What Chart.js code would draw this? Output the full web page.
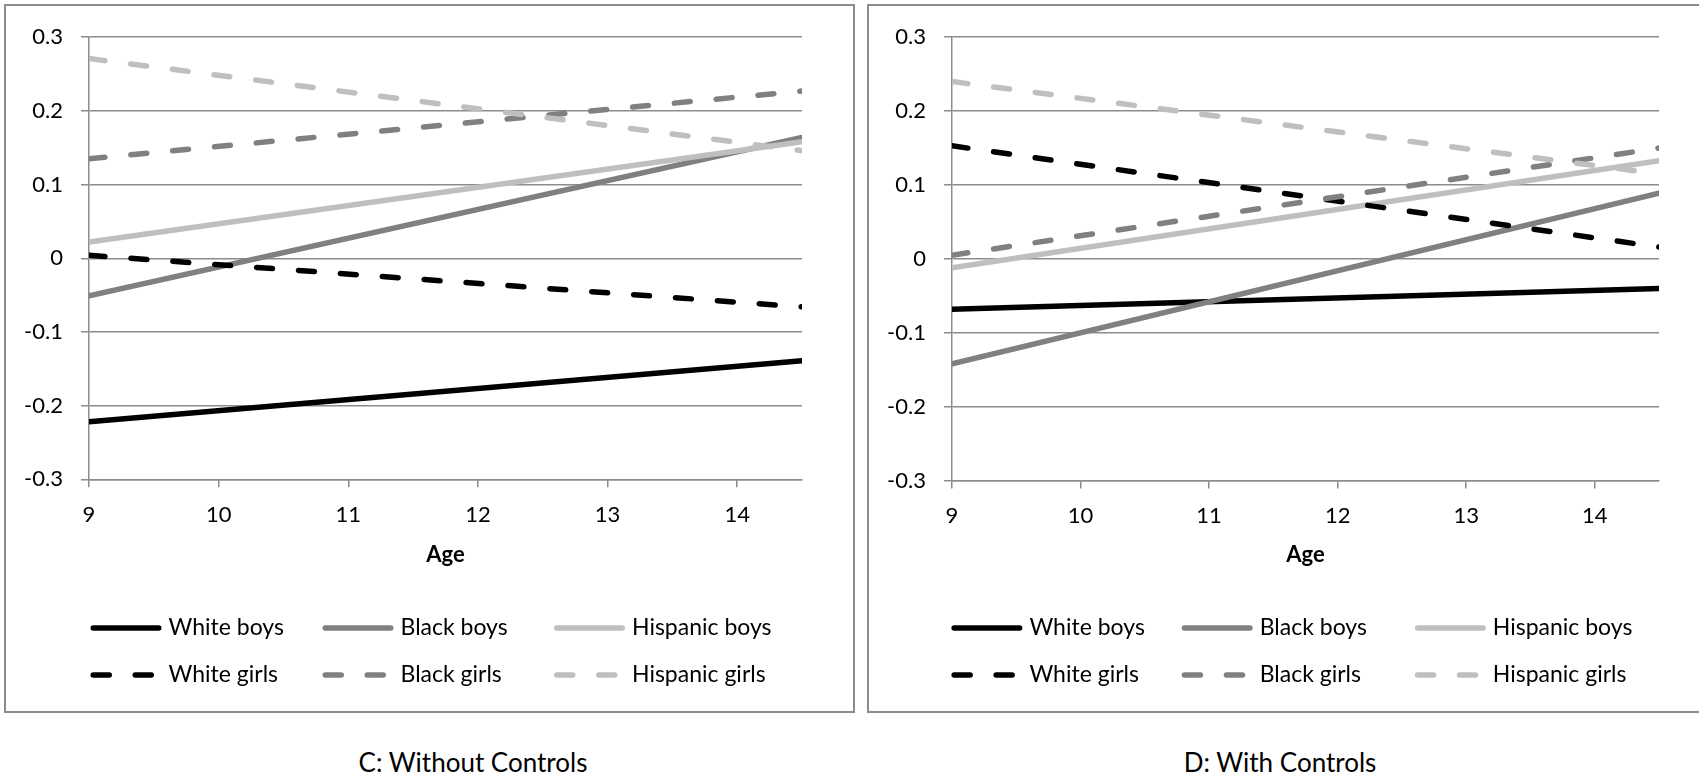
<!DOCTYPE html>
<html>
<head>
<meta charset="utf-8">
<script src="https://cdn.jsdelivr.net/npm/chart.js@4.4.0/dist/chart.umd.min.js"></script>
<style>
  html, body { margin: 0; padding: 0; background: #fff; width: 1699px; height: 780px; overflow: hidden; font-family: Lato, sans-serif; }
  .panel { position: absolute; top: 4px; width: 851px; height: 709px; border: 2px solid #8c8c8c; box-sizing: border-box; background: #fff; }
  .panel canvas { position: absolute; left: 0; top: 0; }
  .caption { position: absolute; top: 745px; font-size: 26px; line-height: 34px; color: #000; transform: translateX(-50%); white-space: nowrap; }
</style>
</head>
<body>
<div class="panel" style="left:4px"><canvas id="chartC" width="847" height="705"></canvas></div>
<div class="panel" style="left:867px"><canvas id="chartD" width="847" height="705"></canvas></div>
<div class="caption" style="left:473px">C: Without Controls</div>
<div class="caption" style="left:1280px">D: With Controls</div>
<script>
// Ages at which each fitted trajectory is evaluated
const ages = [9, 14.5];
const ageTicks = [9, 10, 11, 12, 13, 14];
const valueTicks = [-0.3, -0.2, -0.1, 0, 0.1, 0.2, 0.3];
const valueTickLabels = ['-0.3', '-0.2', '-0.1', '0', '0.1', '0.2', '0.3'];
const seriesNames = ['White boys', 'Black boys', 'Hispanic boys', 'White girls', 'Black girls', 'Hispanic girls'];

// C: Without Controls
const cWhiteBoys     = [-0.222, -0.139];
const cBlackBoys     = [-0.051,  0.164];
const cHispanicBoys  = [ 0.022,  0.158];
const cWhiteGirls    = [ 0.004, -0.066];
const cBlackGirls    = [ 0.135,  0.227];
const cHispanicGirls = [ 0.271,  0.146];

// D: With Controls
const dWhiteBoys     = [-0.068, -0.040];
const dBlackBoys     = [-0.142,  0.089];
const dHispanicBoys  = [-0.012,  0.133];
const dWhiteGirls    = [ 0.153,  0.016];
const dBlackGirls    = [ 0.005,  0.150];
const dHispanicGirls = [ 0.240,  0.115];

const FONT = 'Lato, sans-serif';
const GRID = '#8c8c8c';
const raceColors = ['#000000', '#808080', '#bfbfbf'];
const LINE_W = 5.5;
const DASH = [16, 26];

function buildDatasets(seriesList) {
  return seriesList.map((vals, i) => ({
    label: seriesNames[i],
    data: ages.map((a, k) => ({ x: a, y: vals[k] })),
    borderColor: raceColors[i % 3],
    backgroundColor: raceColors[i % 3],
    borderWidth: LINE_W,
    borderDash: i >= 3 ? DASH : [],
    borderCapStyle: 'round',
    pointRadius: 0,
    fill: false,
    order: -i
  }));
}

// Two-row, three-column legend drawn with each dataset's own line style
const sampleLegend = {
  id: 'sampleLegend',
  afterDraw(chart, args, opts) {
    const ctx = chart.ctx;
    ctx.save();
    chart.data.datasets.forEach((ds, i) => {
      const x0 = opts.cols[i % 3];
      const y = opts.rows[Math.floor(i / 3)];
      const r = ds.borderWidth / 2;
      ctx.beginPath();
      ctx.strokeStyle = ds.borderColor;
      ctx.lineWidth = ds.borderWidth;
      ctx.lineCap = 'round';
      ctx.setLineDash(ds.borderDash || []);
      ctx.moveTo(x0 + r, y);
      ctx.lineTo(x0 + opts.sample - r, y);
      ctx.stroke();
      ctx.setLineDash([]);
      ctx.fillStyle = '#000';
      ctx.font = opts.fontSize + 'px ' + FONT;
      ctx.textAlign = 'left';
      ctx.textBaseline = 'middle';
      ctx.fillText(ds.label, x0 + opts.sample + 7, y);
    });
    ctx.restore();
  }
};

function makeChart(id, seriesList, geo) {
  const plotBottomPad = 143;
  const xAxisHeight = 705 - plotBottomPad - geo.plotBottom;
  return new Chart(document.getElementById(id), {
    type: 'line',
    data: { datasets: buildDatasets(seriesList) },
    plugins: [sampleLegend],
    options: {
      responsive: false,
      animation: false,
      devicePixelRatio: 1,
      layout: { padding: { left: 0, top: geo.plotTop, right: 847 - geo.plotRight, bottom: plotBottomPad } },
      plugins: {
        legend: { display: false },
        tooltip: { enabled: false },
        sampleLegend: { cols: geo.legendCols, rows: [622, 669], sample: 71, fontSize: 23 }
      },
      scales: {
        x: {
          type: 'linear',
          min: 9,
          max: 14.5,
          afterBuildTicks: s => { s.ticks = ageTicks.map(v => ({ value: v })); },
          afterFit: s => { s.height = xAxisHeight; },
          grid: { drawOnChartArea: false, drawTicks: true, tickLength: 8, color: GRID, lineWidth: 1.5 },
          border: { display: true, color: GRID, width: 1.5 },
          ticks: { color: '#000', font: { family: FONT, size: 22 }, padding: 14.5, maxRotation: 0, autoSkip: false,
                   callback: v => String(v) },
          title: { display: true, text: 'Age', color: '#000', font: { family: FONT, size: 22, weight: 'bold' }, padding: 0 }
        },
        y: {
          min: -0.3,
          max: 0.3,
          afterBuildTicks: s => { s.ticks = valueTicks.map(v => ({ value: v })); },
          afterFit: s => { s.width = 83; },
          grid: { drawTicks: true, tickLength: 8, color: GRID, lineWidth: 1.5 },
          border: { display: true, color: GRID, width: 1.5 },
          ticks: { color: '#000', font: { family: FONT, size: 22 }, padding: 18,
                   callback: (v, idx) => valueTickLabels[idx] }
        }
      }
    }
  });
}

makeChart('chartC',
  [cWhiteBoys, cBlackBoys, cHispanicBoys, cWhiteGirls, cBlackGirls, cHispanicGirls],
  { plotTop: 28.3, plotBottom: 473.3, plotRight: 796, legendCols: [84.5, 316.5, 548] });

makeChart('chartD',
  [dWhiteBoys, dBlackBoys, dHispanicBoys, dWhiteGirls, dBlackGirls, dHispanicGirls],
  { plotTop: 29.7, plotBottom: 474.6, plotRight: 790, legendCols: [82.4, 312.7, 545.8] });
</script>
</body>
</html>
